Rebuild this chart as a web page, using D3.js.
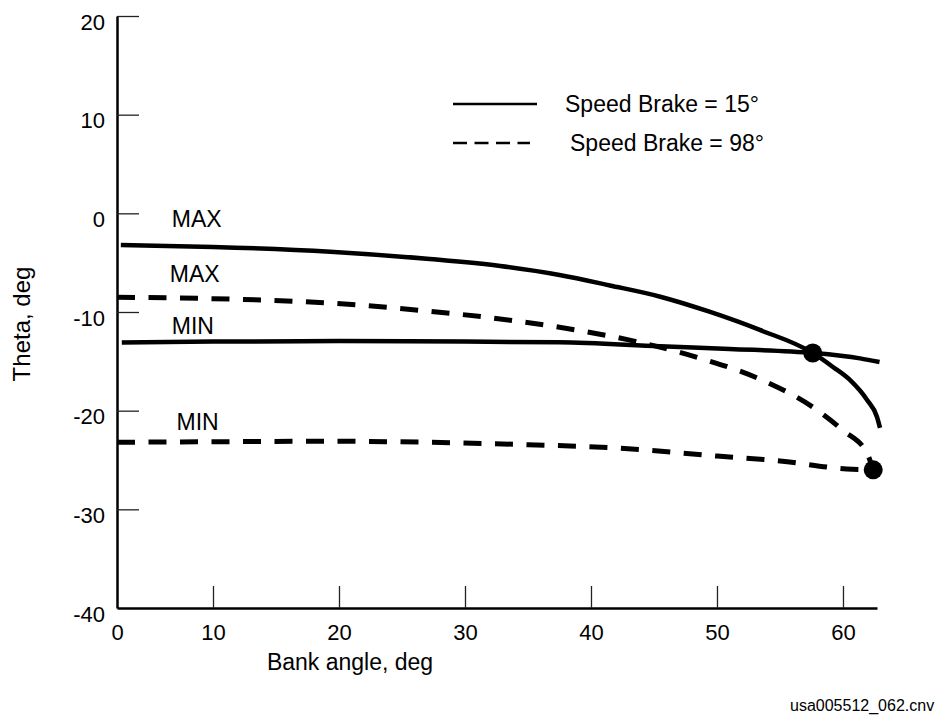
<!DOCTYPE html>
<html>
<head>
<meta charset="utf-8">
<script src="https://cdn.jsdelivr.net/npm/d3@7"></script>
<style>
  body { margin: 0; background: #fff; }
  svg { display: block; font-family: "Liberation Sans", Arial, sans-serif; }
</style>
</head>
<body>
<div class="chart"></div>
<script>
// tick values
const bankTicks = [0, 10, 20, 30, 40, 50, 60];
const thetaTicks = [-40, -30, -20, -10, 0, 10, 20];

// curves: [bank angle, theta]
const sb15Max = [[0.4, -3.2], [10, -3.4], [19.3, -3.89], [27.2, -4.63], [32.8, -5.34], [37.5, -6.25],
  [41.5, -7.31], [45.5, -8.45], [49.4, -9.97], [53.4, -11.82], [57.6, -14.15], [59.2, -15.57],
  [60.55, -16.89], [61.9, -18.9], [62.7, -20.64], [62.94, -21.75]];
const sb15Min = [[0.5, -13.1], [10, -13.0], [20, -12.95], [30, -13.0], [37.5, -13.07], [45.5, -13.48],
  [51, -13.75], [57.6, -14.15], [61.35, -14.7], [62.9, -15.07]];
const sb98Max = [[0, -8.5], [10, -8.65], [19.3, -9.1], [27, -9.9], [34.3, -10.95], [37.5, -11.55],
  [43.6, -13.0], [48.7, -14.7], [53.4, -16.8], [57.9, -19.9], [60, -22.0], [61.9, -24.3], [62.4, -26.0]];
const sb98Min = [[0, -23.2], [10, -23.15], [19.3, -23.1], [27, -23.2], [35, -23.45], [42.3, -23.8],
  [50, -24.6], [55, -25.1], [60.3, -25.9], [62.4, -26.0]];

const markers = [[57.6, -14.15], [62.4, -26.0]];

const curveLabels = [
  { text: "MAX", bank: 5.7, theta: -1.38 },
  { text: "MAX", bank: 5.5, theta: -6.96 },
  { text: "MIN", bank: 5.7, theta: -12.23 },
  { text: "MIN", bank: 6.2, theta: -21.96 }
];

const legendItems = [
  { label: "Speed Brake = 15°", dash: null },
  { label: "Speed Brake = 98°", dash: "14,7.5" }
];

const width = 938, height = 719;

const svg = d3.select(".chart")
  .append("svg")
  .attr("width", width)
  .attr("height", height);

// the printed axis has a short first interval (0-10)
const x = d3.scaleLinear()
  .domain([0, 10, 62.7])
  .range([117, 213, 877]);

const y = d3.scaleLinear()
  .domain([-40, 20])
  .range([608, 16]);

// axes, ticks pointing inward
const xAxis = svg.append("g")
  .attr("transform", `translate(0,${y(-40)})`)
  .call(d3.axisBottom(x).tickValues(bankTicks).tickFormat(d => String(d))
    .tickSize(-22).tickSizeOuter(0).tickPadding(16));

const yAxis = svg.append("g")
  .attr("transform", `translate(${x(0)},0)`)
  .call(d3.axisLeft(y).tickValues(thetaTicks).tickFormat(d => String(d))
    .tickSize(-22).tickSizeOuter(0).tickPadding(12));

[xAxis, yAxis].forEach(ax => {
  ax.select(".domain").attr("stroke", "#000").attr("stroke-width", 2.5);
  ax.selectAll(".tick line").attr("stroke", "#222").attr("stroke-width", 1.3);
  ax.selectAll(".tick text")
    .attr("fill", "#000")
    .style("font-size", "22px")
    .style("font-family", '"Liberation Sans", Arial, sans-serif');
});
yAxis.selectAll(".tick text").attr("dy", "0.6em");
xAxis.selectAll(".tick").filter(d => d === 0).select("line").remove();
yAxis.selectAll(".tick").filter(d => d === -40).select("line").remove();

svg.append("text")
  .attr("x", 350)
  .attr("y", 670)
  .attr("text-anchor", "middle")
  .style("font-size", "23px")
  .text("Bank angle, deg");

svg.append("text")
  .attr("transform", "translate(30,324) rotate(-90)")
  .attr("text-anchor", "middle")
  .style("font-size", "24px")
  .text("Theta, deg");

// curves
const line = d3.line()
  .curve(d3.curveMonotoneX)
  .x(d => x(d[0]))
  .y(d => y(d[1]));

const series = [
  { data: sb15Max, dash: null },
  { data: sb15Min, dash: null },
  { data: sb98Max, dash: "18,13.5" },
  { data: sb98Min, dash: "18,13.5" }
];

svg.append("g")
  .selectAll("path")
  .data(series)
  .join("path")
  .attr("fill", "none")
  .attr("stroke", "#000")
  .attr("stroke-width", d => d.dash ? 5 : 4.5)
  .attr("stroke-dasharray", d => d.dash)
  .attr("d", d => line(d.data));

svg.append("g")
  .selectAll("circle")
  .data(markers)
  .join("circle")
  .attr("cx", d => x(d[0]))
  .attr("cy", d => y(d[1]))
  .attr("r", 9.5)
  .attr("fill", "#000");

svg.append("g")
  .selectAll("text")
  .data(curveLabels)
  .join("text")
  .attr("x", d => x(d.bank))
  .attr("y", d => y(d.theta))
  .style("font-size", "23px")
  .text(d => d.text);

// legend
const legend = svg.append("g");
legendItems.forEach((item, i) => {
  const ly = i === 0 ? 104 : 143;
  legend.append("line")
    .attr("x1", 453)
    .attr("x2", i === 0 ? 537 : 530)
    .attr("y1", ly)
    .attr("y2", ly)
    .attr("stroke", "#000")
    .attr("stroke-width", 2.5)
    .attr("stroke-dasharray", item.dash);
  legend.append("text")
    .attr("x", i === 0 ? 565 : 570)
    .attr("y", ly + 5)
    .attr("dy", "0.12em")
    .style("font-size", "23px")
    .text(item.label);
});

svg.append("text")
  .attr("x", 790)
  .attr("y", 711)
  .style("font-size", "16px")
  .text("usa005512_062.cnv");
</script>
</body>
</html>
